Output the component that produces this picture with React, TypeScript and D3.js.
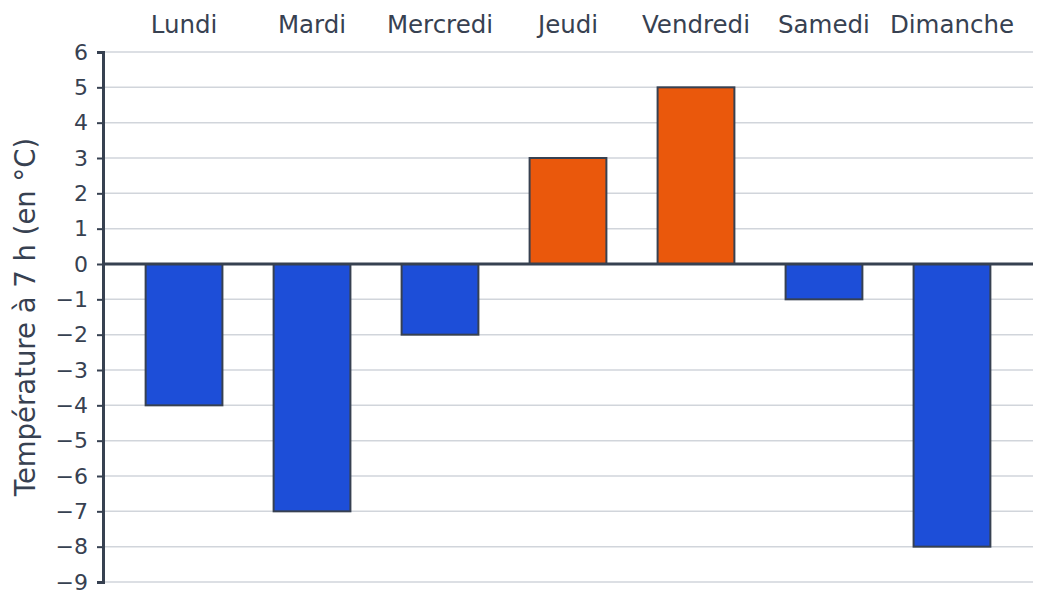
import { useEffect, useRef } from "react";
import * as d3 from "d3";

const days = ["Lundi", "Mardi", "Mercredi", "Jeudi", "Vendredi", "Samedi", "Dimanche"];
const temps = [-4, -7, -2, 3, 5, -1, -8];
const yTicks = [6, 5, 4, 3, 2, 1, 0, -1, -2, -3, -4, -5, -6, -7, -8, -9];
const yTitle = "Température à 7 h (en °C)";

const WIDTH = 1048;
const HEIGHT = 614;

export default function App() {
  const svgRef = useRef<SVGSVGElement>(null);

  useEffect(() => {
    document.body.style.margin = "0";
    if (!svgRef.current) return;
    const svg = d3.select(svgRef.current);
    svg.selectAll("*").remove();

    const left = 103;
    const right = 1033;
    const top = 52;
    const bottom = 582;
    const ink = "#374151";
    const font = "'DejaVu Sans', sans-serif";

    const x = d3.scaleBand<string>()
      .domain(days)
      .range([left, right])
      .paddingInner(0.4)
      .paddingOuter(0.333);

    const y = d3.scaleLinear().domain([-9, 6]).range([bottom, top]);

    // grid
    svg.append("g")
      .selectAll("line")
      .data(yTicks.filter(d => d !== 0))
      .join("line")
      .attr("x1", left)
      .attr("x2", right)
      .attr("y1", d => y(d))
      .attr("y2", d => y(d))
      .attr("stroke", "#d1d5db")
      .attr("stroke-width", 1.5);

    // bars
    svg.append("g")
      .selectAll("rect")
      .data(temps)
      .join("rect")
      .attr("x", (d, i) => x(days[i])!)
      .attr("y", d => y(Math.max(0, d)))
      .attr("width", x.bandwidth())
      .attr("height", d => Math.abs(y(d) - y(0)))
      .attr("fill", d => (d >= 0 ? "#ea580c" : "#1d4ed8"))
      .attr("stroke", ink)
      .attr("stroke-width", 2);

    // zero line
    svg.append("line")
      .attr("x1", left)
      .attr("x2", right)
      .attr("y1", y(0))
      .attr("y2", y(0))
      .attr("stroke", ink)
      .attr("stroke-width", 3);

    // y axis
    const yAxis = d3.axisLeft(y)
      .tickValues(yTicks)
      .tickSize(6)
      .tickPadding(9)
      .tickFormat(d => d3.format("d")(d as number).replace("-", "\u2212"));

    svg.append("g")
      .attr("transform", `translate(${left},0)`)
      .call(yAxis)
      .call(g => g.select(".domain").attr("stroke", ink).attr("stroke-width", 3))
      .call(g => g.selectAll(".tick line").attr("stroke", ink).attr("stroke-width", 2))
      .call(g => g.selectAll(".tick text")
        .attr("fill", ink)
        .style("font-family", font)
        .style("font-size", "22px"));

    // category labels on top
    svg.append("g")
      .selectAll("text")
      .data(days)
      .join("text")
      .attr("x", d => x(d)! + x.bandwidth() / 2)
      .attr("y", 33)
      .attr("text-anchor", "middle")
      .attr("fill", ink)
      .style("font-family", font)
      .style("font-size", "24.5px")
      .text(d => d);

    // y title
    svg.append("text")
      .attr("transform", `translate(35,${(top + bottom) / 2}) rotate(-90)`)
      .attr("text-anchor", "middle")
      .attr("fill", ink)
      .style("font-family", font)
      .style("font-size", "27.5px")
      .text(yTitle);
  }, []);

  return (
    <div style={{ position: "absolute", left: 0, top: 0 }}>
      <svg ref={svgRef} width={WIDTH} height={HEIGHT} style={{ display: "block" }} />
    </div>
  );
}
